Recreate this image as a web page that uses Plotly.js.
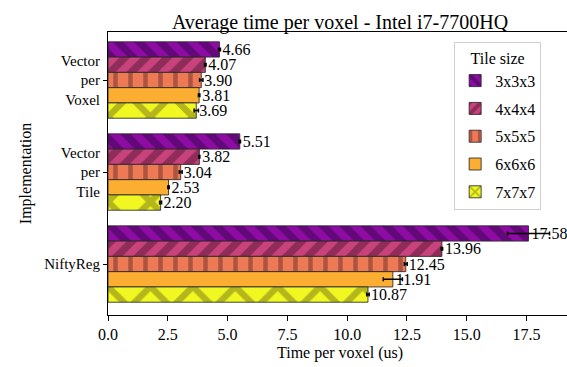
<!DOCTYPE html>
<html>
<head>
<meta charset="utf-8">
<script src="https://cdn.plot.ly/plotly-3.0.1.min.js"></script>
<style>
html,body{margin:0;padding:0;overflow:hidden;background:#fff;}
#chart{width:572px;height:367px;}
</style>
</head>
<body>
<div id="chart"></div>
<script>
const implementations = ["Vector<br>per<br>Voxel", "Vector<br>per<br>Tile", "NiftyReg"];
const tileSizes = ["3x3x3", "4x4x4", "5x5x5", "6x6x6", "7x7x7"];
const t3 = [4.66, 5.51, 17.58];
const t4 = [4.07, 3.82, 13.96];
const t5 = [3.90, 3.04, 12.45];
const t6 = [3.81, 2.53, 11.91];
const t7 = [3.69, 2.20, 10.87];
const e3 = [0.04, 0.03, 0.88];
const e4 = [0.03, 0.02, 0.03];
const e5 = [0.07, 0.06, 0.06];
const e6 = [0.03, 0.03, 0.40];
const e7 = [0.09, 0.04, 0.05];

const values = [t3, t4, t5, t6, t7];
const errors = [e3, e4, e5, e6, e7];
const colors = ["#8e0ca4", "#c8437b", "#ee7a55", "#fbae32", "#f0f721"];
const hatchColors = ["#620879", "#8f2c5a", "#ad5340", "#fbae32", "#b4b61c"];
const shapes = ["\\", "/", "|", "", "x"];
const sizes = [15, 15, 15, 10, 30];
const solid = [0.5, 0.5, 0.3, 0.3, 0.38];

const FONT = "'Liberation Serif', 'Times New Roman', serif";

const traces = tileSizes.map((name, i) => ({
  type: "bar",
  orientation: "h",
  name: name,
  y: implementations,
  x: values[i],
  text: values[i].map(v => v.toFixed(2)),
  textposition: "outside",
  constraintext: "none",
  cliponaxis: false,
  textfont: {family: FONT, size: 16, color: "#000"},
  marker: {
    color: colors[i],
    line: {color: "rgba(40,40,40,0.85)", width: 1},
    pattern: {shape: shapes[i], fgcolor: hatchColors[i], bgcolor: colors[i], fgopacity: 1, size: sizes[i], solidity: solid[i], fillmode: "replace"}
  },
  error_x: {type: "data", array: errors[i], visible: true, color: "#000", thickness: 1.5, width: 2},
  legendgroup: "g" + i,
  hoverinfo: "skip"
}));

const layout = {
  width: 572,
  height: 367,
  margin: {l: 108, r: 0, t: 32, b: 52},
  paper_bgcolor: "#fff",
  plot_bgcolor: "#fff",
  font: {family: FONT, size: 16, color: "#000"},
  title: {text: "Average time per voxel - Intel i7-7700HQ", font: {family: FONT, size: 20, color: "#000"}, x: 0.5, xref: "paper", xanchor: "center", y: 0.96, yref: "container"},
  barmode: "group",
  bargap: 0.17,
  bargroupgap: 0,
  showlegend: true,
  legend: {
    title: {text: "Tile size", side: "top center", font: {family: FONT, size: 16}},
    x: 0.746, y: 0.965, xanchor: "left", yanchor: "top",
    bgcolor: "rgba(255,255,255,0.9)", bordercolor: "#d0d0d0", borderwidth: 1,
    font: {family: FONT, size: 16},
    traceorder: "grouped", tracegroupgap: 4,
    itemwidth: 30
  },
  xaxis: {
    range: [0, 19.4],
    tickvals: [0, 2.5, 5, 7.5, 10, 12.5, 15, 17.5],
    ticktext: ["0.0", "2.5", "5.0", "7.5", "10.0", "12.5", "15.0", "17.5"],
    ticks: "outside", ticklen: 5, tickcolor: "#000", tickwidth: 1,
    showgrid: false, zeroline: false,
    showline: true, linecolor: "#000", linewidth: 1, mirror: true,
    title: {text: "Time per voxel (us)", font: {family: FONT, size: 16}, standoff: 4},
    tickfont: {family: FONT, size: 16}
  },
  yaxis: {
    type: "category",
    categoryorder: "array",
    categoryarray: implementations,
    range: [2.554, -0.522],
    ticks: "outside", ticklen: 4, tickcolor: "#000",
    showgrid: false, zeroline: false,
    showline: true, linecolor: "#000", linewidth: 1, mirror: true,
    title: {text: "Implementation", font: {family: FONT, size: 16}, standoff: 8},
    tickfont: {family: FONT, size: 15}
  }
};

Plotly.newPlot("chart", traces, layout, {staticPlot: true, displayModeBar: false});
</script>
</body>
</html>
